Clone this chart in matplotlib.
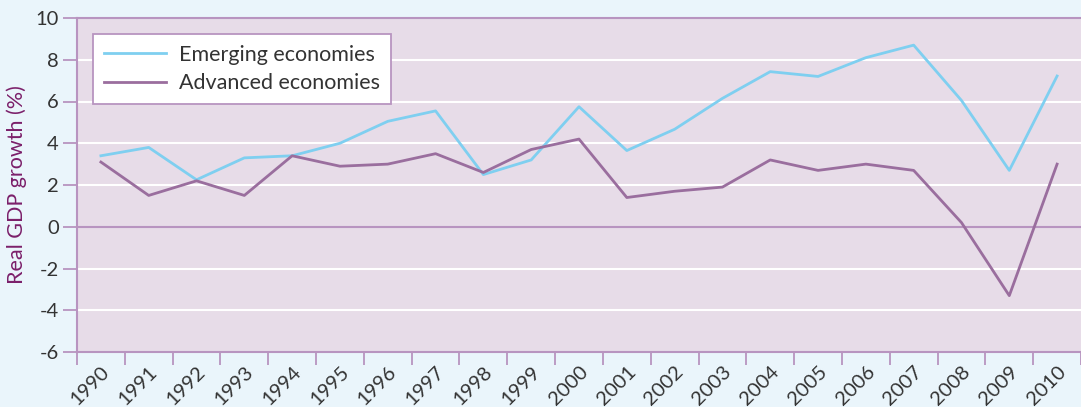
import matplotlib
matplotlib.use('Agg')
import matplotlib.pyplot as plt
import matplotlib.transforms as mtransforms

years = [str(y) for y in range(1990, 2011)]
emerging = [3.4, 3.8, 2.25, 3.3, 3.4, 4.0, 5.05, 5.55, 2.5, 3.2, 5.75,
            3.65, 4.67, 6.15, 7.43, 7.2, 8.1, 8.7, 6.05, 2.7, 7.22]
advanced = [3.1, 1.5, 2.2, 1.5, 3.4, 2.9, 3.0, 3.5, 2.6, 3.7, 4.2,
            1.4, 1.7, 1.9, 3.2, 2.7, 3.0, 2.7, 0.2, -3.3, 3.0]
y_ticks = [-6, -4, -2, 0, 2, 4, 6, 8, 10]

plt.rcParams['font.family'] = ['Lato', 'DejaVu Sans']

fig_bg = '#EAF5FB'
ax_bg = '#E7DCE8'
spine_c = '#B894C0'

fig = plt.figure(figsize=(10.81, 4.07), dpi=100, facecolor=fig_bg)
ax = fig.add_axes([77 / 1081, 55 / 407, 1 - 77 / 1081, 334 / 407])
ax.set_facecolor(ax_bg)

x = list(range(len(years)))
ax.plot(x, emerging, color='#7FCFF0', lw=2.0, label='Emerging economies', zorder=3)
ax.plot(x, advanced, color='#9A6E9E', lw=2.0, label='Advanced economies', zorder=3)

ax.set_xlim(-0.5, len(years) - 0.5)
ax.set_ylim(-6, 10)

# gridlines
for v in y_ticks[1:-1]:
    ax.axhline(v, color=spine_c if v == 0 else 'white', lw=1.5, zorder=1)

ax.set_yticks(y_ticks)
ax.set_yticklabels([str(v) for v in y_ticks], fontsize=14.5, color='#333333')
ax.tick_params(axis='y', length=10, width=1.3, color=spine_c, pad=3)

# tick marks between categories, labels at centers
ax.set_xticks([i - 0.5 for i in range(len(years) + 1)], minor=True)
ax.set_xticks(x)
ax.set_xticklabels(years, fontsize=14.5, color='#333333', rotation=45,
                   ha='right', va='top', rotation_mode='anchor')
offset = mtransforms.ScaledTranslation(11 / 72, 0, fig.dpi_scale_trans)
for lbl in ax.get_xticklabels():
    lbl.set_transform(lbl.get_transform() + offset)
ax.tick_params(axis='x', which='major', length=0, pad=8)
ax.tick_params(axis='x', which='minor', length=9, width=1.3, color=spine_c)

ax.spines['right'].set_visible(False)
for side in ['left', 'bottom', 'top']:
    ax.spines[side].set_color(spine_c)
    ax.spines[side].set_linewidth(1.5)

ax.set_ylabel('Real GDP growth (%)', fontsize=15.5, color='#7B1F6A', labelpad=6)

leg = ax.legend(loc='upper left', bbox_to_anchor=(0.016, 0.952), fontsize=15.5,
                frameon=True, fancybox=False, handlelength=2.9,
                borderpad=0.5, labelspacing=0.4, handletextpad=0.6,
                borderaxespad=0)
leg.get_frame().set_edgecolor(spine_c)
leg.get_frame().set_linewidth(1.3)
leg.get_frame().set_facecolor('white')
leg.get_frame().set_alpha(1)
for t in leg.get_texts():
    t.set_color('#333333')

plt.savefig('out.png', dpi=100, facecolor=fig_bg)
